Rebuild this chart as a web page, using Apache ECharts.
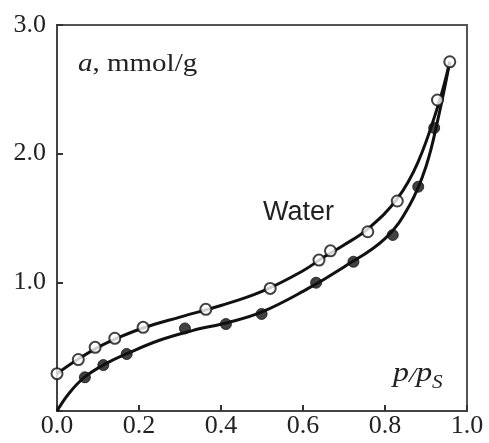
<!DOCTYPE html>
<html>
<head>
<meta charset="utf-8">
<script src="https://cdn.jsdelivr.net/npm/echarts@6/dist/echarts.min.js"></script>
<style>html,body{margin:0;padding:0;background:#fff}#c{width:489px;height:443px}</style>
</head>
<body>
<div id="c"></div>
<script>
// Open circles (upper isotherm)
var openPoints = [[0.0,0.29],[0.052,0.40],[0.093,0.495],[0.141,0.565],[0.21,0.65],[0.363,0.79],[0.52,0.953],[0.639,1.173],[0.667,1.245],[0.758,1.393],[0.83,1.632],[0.928,2.417],[0.958,2.714]];
// Filled circles (lower isotherm)
var filledPoints = [[0.068,0.262],[0.113,0.357],[0.17,0.443],[0.312,0.642],[0.412,0.676],[0.499,0.754],[0.632,0.997],[0.723,1.16],[0.819,1.368],[0.881,1.743],[0.92,2.2]];
// Smooth curves
var upperCurve = [[0.0,0.29],[0.05,0.40],[0.1,0.495],[0.15,0.57],[0.21,0.645],[0.3,0.73],[0.4,0.82],[0.5,0.93],[0.6,1.09],[0.65,1.195],[0.7,1.29],[0.76,1.42],[0.83,1.65],[0.88,1.93],[0.93,2.38],[0.958,2.714]];
var lowerCurve = [[0.0,0.0],[0.03,0.14],[0.068,0.265],[0.12,0.37],[0.17,0.445],[0.25,0.55],[0.33,0.625],[0.42,0.69],[0.5,0.77],[0.6,0.93],[0.7,1.12],[0.8,1.34],[0.86,1.6],[0.9,1.9],[0.93,2.28],[0.958,2.714]];
var xTicks = [0.0,0.2,0.4,0.6,0.8,1.0];
var yTicks = [0,1.0,2.0,3.0];

var chart = echarts.init(document.getElementById('c'));
var serif = '"Liberation Serif","DejaVu Serif",serif';
chart.setOption({
  animation:false,
  grid:{left:57,top:25,right:22,bottom:32,show:true,borderColor:'#555',borderWidth:2,backgroundColor:'transparent'},
  xAxis:{type:'value',min:0,max:1,interval:0.2,
    axisLine:{show:true,lineStyle:{color:'#444',width:2}},
    axisTick:{show:true,inside:true,length:6,lineStyle:{color:'#333',width:2}},
    splitLine:{show:false},
    axisLabel:{fontFamily:serif,fontSize:26,color:'#222',margin:2,formatter:function(v){return v.toFixed(1);}}},
  yAxis:{type:'value',min:0,max:3,interval:1,
    axisLine:{show:true,lineStyle:{color:'#444',width:2}},
    axisTick:{show:true,inside:true,length:6,lineStyle:{color:'#333',width:2}},
    splitLine:{show:false},
    axisLabel:{fontFamily:serif,fontSize:26,color:'#222',margin:11,formatter:function(v){return v===0?'':v.toFixed(1);}}},
  series:[
    {type:'line',data:upperCurve,smooth:0.4,showSymbol:false,symbol:'none',lineStyle:{color:'#111',width:3},z:2},
    {type:'line',data:lowerCurve,smooth:0.4,showSymbol:false,symbol:'none',lineStyle:{color:'#111',width:3},z:2},
    {type:'scatter',data:openPoints,symbol:'circle',symbolSize:11,itemStyle:{color:'#fff',borderColor:'#111',borderWidth:2},z:4},
    {type:'scatter',data:filledPoints,symbol:'circle',symbolSize:11,itemStyle:{color:'#111',borderColor:'#111',borderWidth:1},z:4}
  ],
  graphic:[
    {type:'text',x:78,y:52,scaleX:1.16,style:{rich:{i:{fontFamily:serif,fontStyle:'italic',fontSize:25,fill:'#222'},n:{fontFamily:serif,fontSize:25,fill:'#222'}},text:'{i|a}{n|, mmol/g}'}},
    {type:'text',x:263,y:199,style:{text:'Water',fontFamily:'"Liberation Sans",Arial,sans-serif',fontSize:27,fill:'#222'}},
    {type:'text',x:393,y:357,scaleX:1.18,style:{rich:{i:{fontFamily:serif,fontStyle:'italic',fontSize:27,fill:'#222',lineHeight:30,verticalAlign:'bottom'},n:{fontFamily:serif,fontStyle:'italic',fontSize:22,fill:'#222',lineHeight:30,verticalAlign:'bottom'},s:{fontFamily:serif,fontStyle:'italic',fontSize:18,fill:'#222',lineHeight:20,verticalAlign:'bottom',padding:[0,0,-5,0]}},text:'{i|p}{n|/}{i|p}{s|S}'}}
  ]
});
</script>
</body>
</html>
